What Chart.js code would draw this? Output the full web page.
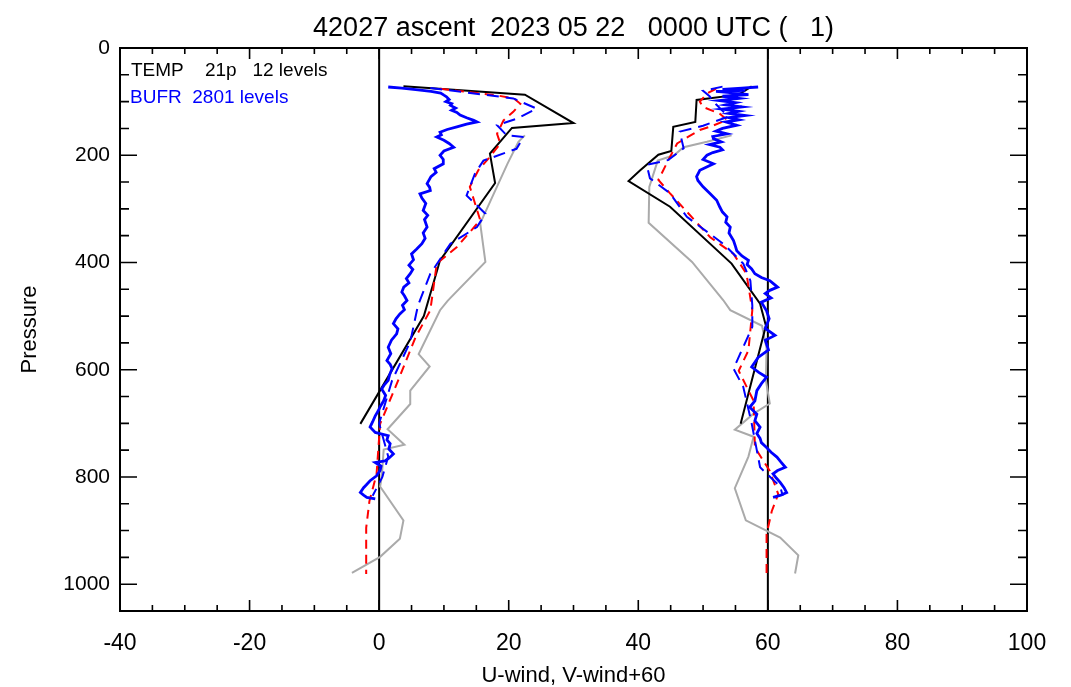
<!DOCTYPE html>
<html>
<head>
<meta charset="utf-8">
<script src="https://cdn.jsdelivr.net/npm/chart.js@4.4.0/dist/chart.umd.min.js"></script>
<style>html,body{margin:0;padding:0;background:#fff;}</style>
</head>
<body>
<canvas id="chart" width="1071" height="687"></canvas>
<script>
// TEMP (black): u and v at the reported levels
var tempUp = [71.5, 87, 140, 149, 197, 252, 396, 500, 701];
var tempU  = [3.75, 22.5, 30, 20.5, 17.1, 17.9, 9.4, 6.9, -2.9];
var tempVp = [71.5, 87, 97, 138, 147, 192, 199, 228, 248, 296, 402, 477, 518, 701];
var tempV  = [57.5, 55.5, 49, 48.8, 45.4, 45.1, 43.1, 40.3, 38.5, 44.9, 54.4, 58.8, 59.7, 55.8];

// grey reference profile
var greyUp = [163, 175, 216, 327, 399, 471, 489, 571, 594, 639, 664, 711, 740, 749, 800, 818, 881, 915, 949, 979];
var greyU  = [22.5, 21.5, 19.8, 15.6, 16.4, 10.6, 9.4, 6.1, 7.8, 4.8, 4.8, 1.3, 3.9, 0.7, 0.4, 0.15, 3.75, 3.2, 0.15, -4.2];
var greyVp = [163, 175, 185, 200, 210, 259, 326, 399, 470, 489, 518, 560, 620, 663, 682, 712, 725, 762, 821, 881, 913, 946, 980];
var greyV  = [54.4, 50.6, 47, 45.5, 43, 41.7, 41.6, 48.3, 53.1, 54.2, 59.1, 59.8, 59.7, 60.3, 57.8, 54.9, 57.8, 57, 54.9, 56.6, 61.9, 64.7, 64.2];

// red dashed
var redUp = [76, 88, 94, 104, 119, 135, 160, 178, 203, 228, 259, 290, 321, 371, 402, 489, 540, 627, 701, 795, 845, 895, 981];
var redU  = [9.4, 18, 20.8, 21.8, 20.7, 19.2, 18.2, 18.7, 17.1, 15.3, 14, 14.8, 15.6, 12, 8.9, 7.9, 5.6, 2.7, 0.15, -0.4, -1.5, -2, -2];
var redVp = [76, 85, 100, 110, 122, 134, 145, 153, 165, 178, 203, 246, 271, 353, 384, 421, 489, 564, 602, 658, 745, 789, 832, 864, 907, 980];
var redV  = [52, 50.6, 49.5, 50, 52.5, 53.7, 51.5, 49.5, 47.8, 46, 44.9, 43.1, 44.9, 51.1, 54.7, 56.7, 57.6, 57, 55.5, 57.8, 58, 60.3, 61.6, 60.6, 59.8, 59.8];

// blue dashed
var bdUp = [74.6, 94, 113, 132, 144, 163, 166, 188, 210, 234, 275, 309, 334, 365, 421, 480, 548, 620, 700, 762, 800, 835];
var bdU  = [7.9, 20.7, 24.3, 21.2, 18.2, 19.7, 22.3, 21.2, 16.1, 14.8, 13.5, 16.4, 15.1, 11, 7.9, 6, 4.8, 2, 0, 1.4, 0.5, -1];
var bdVp = [72, 80, 90, 105, 128, 145, 156, 187, 209, 218, 243, 271, 315, 365, 402, 434, 480, 520, 598, 632, 700, 782, 818, 835];
var bdV  = [53, 50, 51, 52, 53.9, 50, 46.4, 47, 44.6, 41.3, 41.8, 44.9, 47.5, 53.1, 56.2, 57.3, 57.6, 57.6, 54.7, 56.2, 57.5, 58.8, 61.9, 62.3];

// BUFR (blue solid)
var bufrUp = [72.7, 75, 78, 81, 84, 88, 91, 96, 100, 104, 107, 112, 116, 120, 125, 130, 135, 138, 142, 147, 152, 157, 162, 166, 172, 178, 185, 192, 200, 208, 216, 225, 232, 240, 253, 260, 266, 272, 280, 290, 303, 312, 320, 334, 345, 355, 365, 375, 384, 395, 405, 413, 421, 430, 438, 446, 455, 462, 471, 480, 488, 496, 505, 514, 524, 533, 545, 558, 570, 583, 590, 598, 610, 620, 628, 636, 648, 658, 668, 678, 686, 697, 707, 717, 723, 731, 738, 748, 757, 765, 770, 773, 780, 788, 798, 807, 815, 820, 829, 834, 838, 841];
var bufrU  = [1.4, 3.5, 6, 8, 9.5, 10, 10.4, 10.8, 10.3, 11.2, 11, 11.8, 11.2, 12, 12.5, 13.5, 14.6, 15.1, 13.5, 12, 10.5, 9.4, 9.6, 8.9, 10, 10.8, 11.5, 10, 9.4, 9.9, 9.9, 8.5, 8.8, 8, 7.4, 7.8, 7.9, 6.3, 6.6, 7.2, 6.8, 7.5, 7, 7.4, 6.8, 7.1, 6.6, 5.8, 5, 5.3, 4.6, 5.2, 4.8, 4.2, 4.6, 3.8, 3.5, 3.9, 4.3, 3.6, 3.9, 3.2, 2.6, 2.2, 2.9, 2.7, 1.9, 1.4, 1.8, 1.2, 1.7, 2, 1.6, 1.4, 0.8, 0.4, 1, 0.7, 0.2, -0.2, -0.6, -1, -1.4, -0.6, 1.4, 1.2, 1.7, 1.5, 2.2, 1.5, 0.9, -0.6, 0.3, 0.15, -0.4, -1.4, -2, -2.4, -2.9, -2.4, -1.9, -0.6];
var bufrVp = [72.7, 75, 77, 79, 81, 84, 87, 90, 94, 98, 102, 106, 110, 114, 118, 122, 126, 130, 134, 138, 144, 150, 155, 160, 165, 169, 175, 180, 185, 190, 195, 200, 208, 216, 228, 240, 247, 259, 272, 284, 297, 306, 315, 325, 334, 345, 359, 370, 378, 388, 396, 404, 412, 421, 428, 434, 440, 446, 452, 458, 466, 474, 490, 505, 523, 536, 545, 563, 577, 595, 605, 614, 626, 639, 658, 670, 683, 695, 707, 719, 728, 736, 745, 754, 763, 772, 782, 788, 794, 802, 810, 820, 829, 834, 838];
var bufrV  = [58.5, 56, 53, 56.5, 52, 55, 57, 53, 55.5, 52.5, 55, 53.5, 56, 53, 55.5, 54, 56.5, 54, 55.5, 53.5, 55.2, 53, 52, 53.7, 51.5, 51.6, 52.8, 51, 52.6, 53, 51.5, 50.6, 50, 51.6, 49.5, 49, 49.2, 50, 51.1, 52.1, 52.6, 53, 53.7, 53.5, 54.2, 54, 54.7, 55, 55.2, 56, 57, 56.8, 57.5, 58, 59, 60.3, 60.9, 61.5, 60.3, 59.6, 60.5, 59, 59.8, 60.2, 59.6, 61.1, 59.6, 60.1, 58.5, 57.5, 58.6, 59.8, 59, 58.3, 58, 57.2, 58.3, 58, 58.8, 58.3, 58.8, 59, 59.8, 60.5, 61.4, 62, 62.7, 61.5, 60.8, 61.3, 61.9, 62.5, 62.9, 62, 60.8];

// vertical reference lines at u=0 and v+60=0
var refP = [0, 1050];
var refU = [0, 0];
var refV = [60, 60];

function pts(p, v) {
  return p.map(function (y, i) { return {x: v[i], y: y}; });
}

function line(data, color, width, dash) {
  return {
    data: data,
    borderColor: color,
    borderWidth: width,
    borderDash: dash || [],
    pointRadius: 0,
    showLine: true,
    fill: false,
    tension: 0
  };
}

var FONT = 'Liberation Sans';

// inward ticks on all four sides, frame, title and the two text lines
var frameTicks = {
  id: 'frameTicks',
  afterDatasetsDraw: function (chart) {
    var ctx = chart.ctx, a = chart.chartArea;
    var x = chart.scales.x, y = chart.scales.y;
    ctx.save();
    ctx.strokeStyle = '#000';
    ctx.lineWidth = 1.6;
    ctx.beginPath();
    for (var v = -40; v <= 100; v += 5) {
      var px = x.getPixelForValue(v);
      var len = v % 20 === 0 ? 11 : 6;
      ctx.moveTo(px, a.bottom); ctx.lineTo(px, a.bottom - len);
      ctx.moveTo(px, a.top); ctx.lineTo(px, a.top + len);
    }
    for (var p = 0; p <= 1050; p += 50) {
      var py = y.getPixelForValue(p);
      var l2 = p % 200 === 0 ? 17 : 9;
      ctx.moveTo(a.left, py); ctx.lineTo(a.left + l2, py);
      ctx.moveTo(a.right, py); ctx.lineTo(a.right - l2, py);
    }
    ctx.stroke();
    ctx.lineWidth = 2;
    ctx.strokeRect(a.left, a.top, a.right - a.left, a.bottom - a.top);

    ctx.fillStyle = '#000';
    ctx.font = '27px "' + FONT + '"';
    ctx.textAlign = 'center';
    ctx.textBaseline = 'alphabetic';
    ctx.fillText('42027 ascent  2023 05 22   0000 UTC (   1)', (a.left + a.right) / 2, 36);

    ctx.textAlign = 'left';
    ctx.textBaseline = 'middle';
    ctx.font = '19px "' + FONT + '"';
    ctx.fillText('TEMP    21p   12 levels', a.left + 11, a.top + 23);
    ctx.fillStyle = '#0000ff';
    ctx.fillText('BUFR  2801 levels', a.left + 10, a.top + 50);
    ctx.restore();
  }
};

new Chart(document.getElementById('chart'), {
  type: 'scatter',
  data: {
    datasets: [
      line(pts(bufrUp, bufrU), '#0000ff', 2.8),
      line(pts(bufrVp, bufrV), '#0000ff', 2.8),
      line(pts(bdUp, bdU), '#0000ff', 2, [12, 7]),
      line(pts(bdVp, bdV), '#0000ff', 2, [12, 7]),
      line(pts(redUp, redU), '#ff0000', 2, [9, 6]),
      line(pts(redVp, redV), '#ff0000', 2, [9, 6]),
      line(pts(tempUp, tempU), '#000000', 2),
      line(pts(tempVp, tempV), '#000000', 2),
      line(pts(greyUp, greyU), '#aaaaaa', 2),
      line(pts(greyVp, greyV), '#aaaaaa', 2),
      line(pts(refP, refU), '#000000', 2),
      line(pts(refP, refV), '#000000', 2)
    ]
  },
  options: {
    responsive: false,
    animation: false,
    layout: {padding: {top: 48, right: 44}},
    plugins: {
      legend: {display: false},
      tooltip: {enabled: false},
      title: {display: false}
    },
    scales: {
      x: {
        type: 'linear',
        min: -40, max: 100,
        afterFit: function (s) { s.height = 76; },
        grid: {display: false, drawTicks: false},
        border: {display: false},
        ticks: {stepSize: 20, color: '#000', padding: 19, font: {family: FONT, size: 23},
                callback: function (v) { return String(v); }},
        title: {display: true, text: 'U-wind, V-wind+60', color: '#000',
                font: {family: FONT, size: 22}, padding: {top: 0, bottom: -2}}
      },
      y: {
        type: 'linear',
        reverse: true,
        min: 0, max: 1050,
        afterFit: function (s) { s.width = 120; },
        grid: {display: false, drawTicks: false},
        border: {display: false},
        ticks: {stepSize: 200, color: '#000', padding: 10, font: {family: FONT, size: 21},
                callback: function (v) { return v % 200 === 0 ? String(v) : ''; }},
        title: {display: true, text: 'Pressure', color: '#000',
                font: {family: FONT, size: 22}, padding: {top: 17, bottom: 0}}
      }
    }
  },
  plugins: [frameTicks]
});
</script>
</body>
</html>
